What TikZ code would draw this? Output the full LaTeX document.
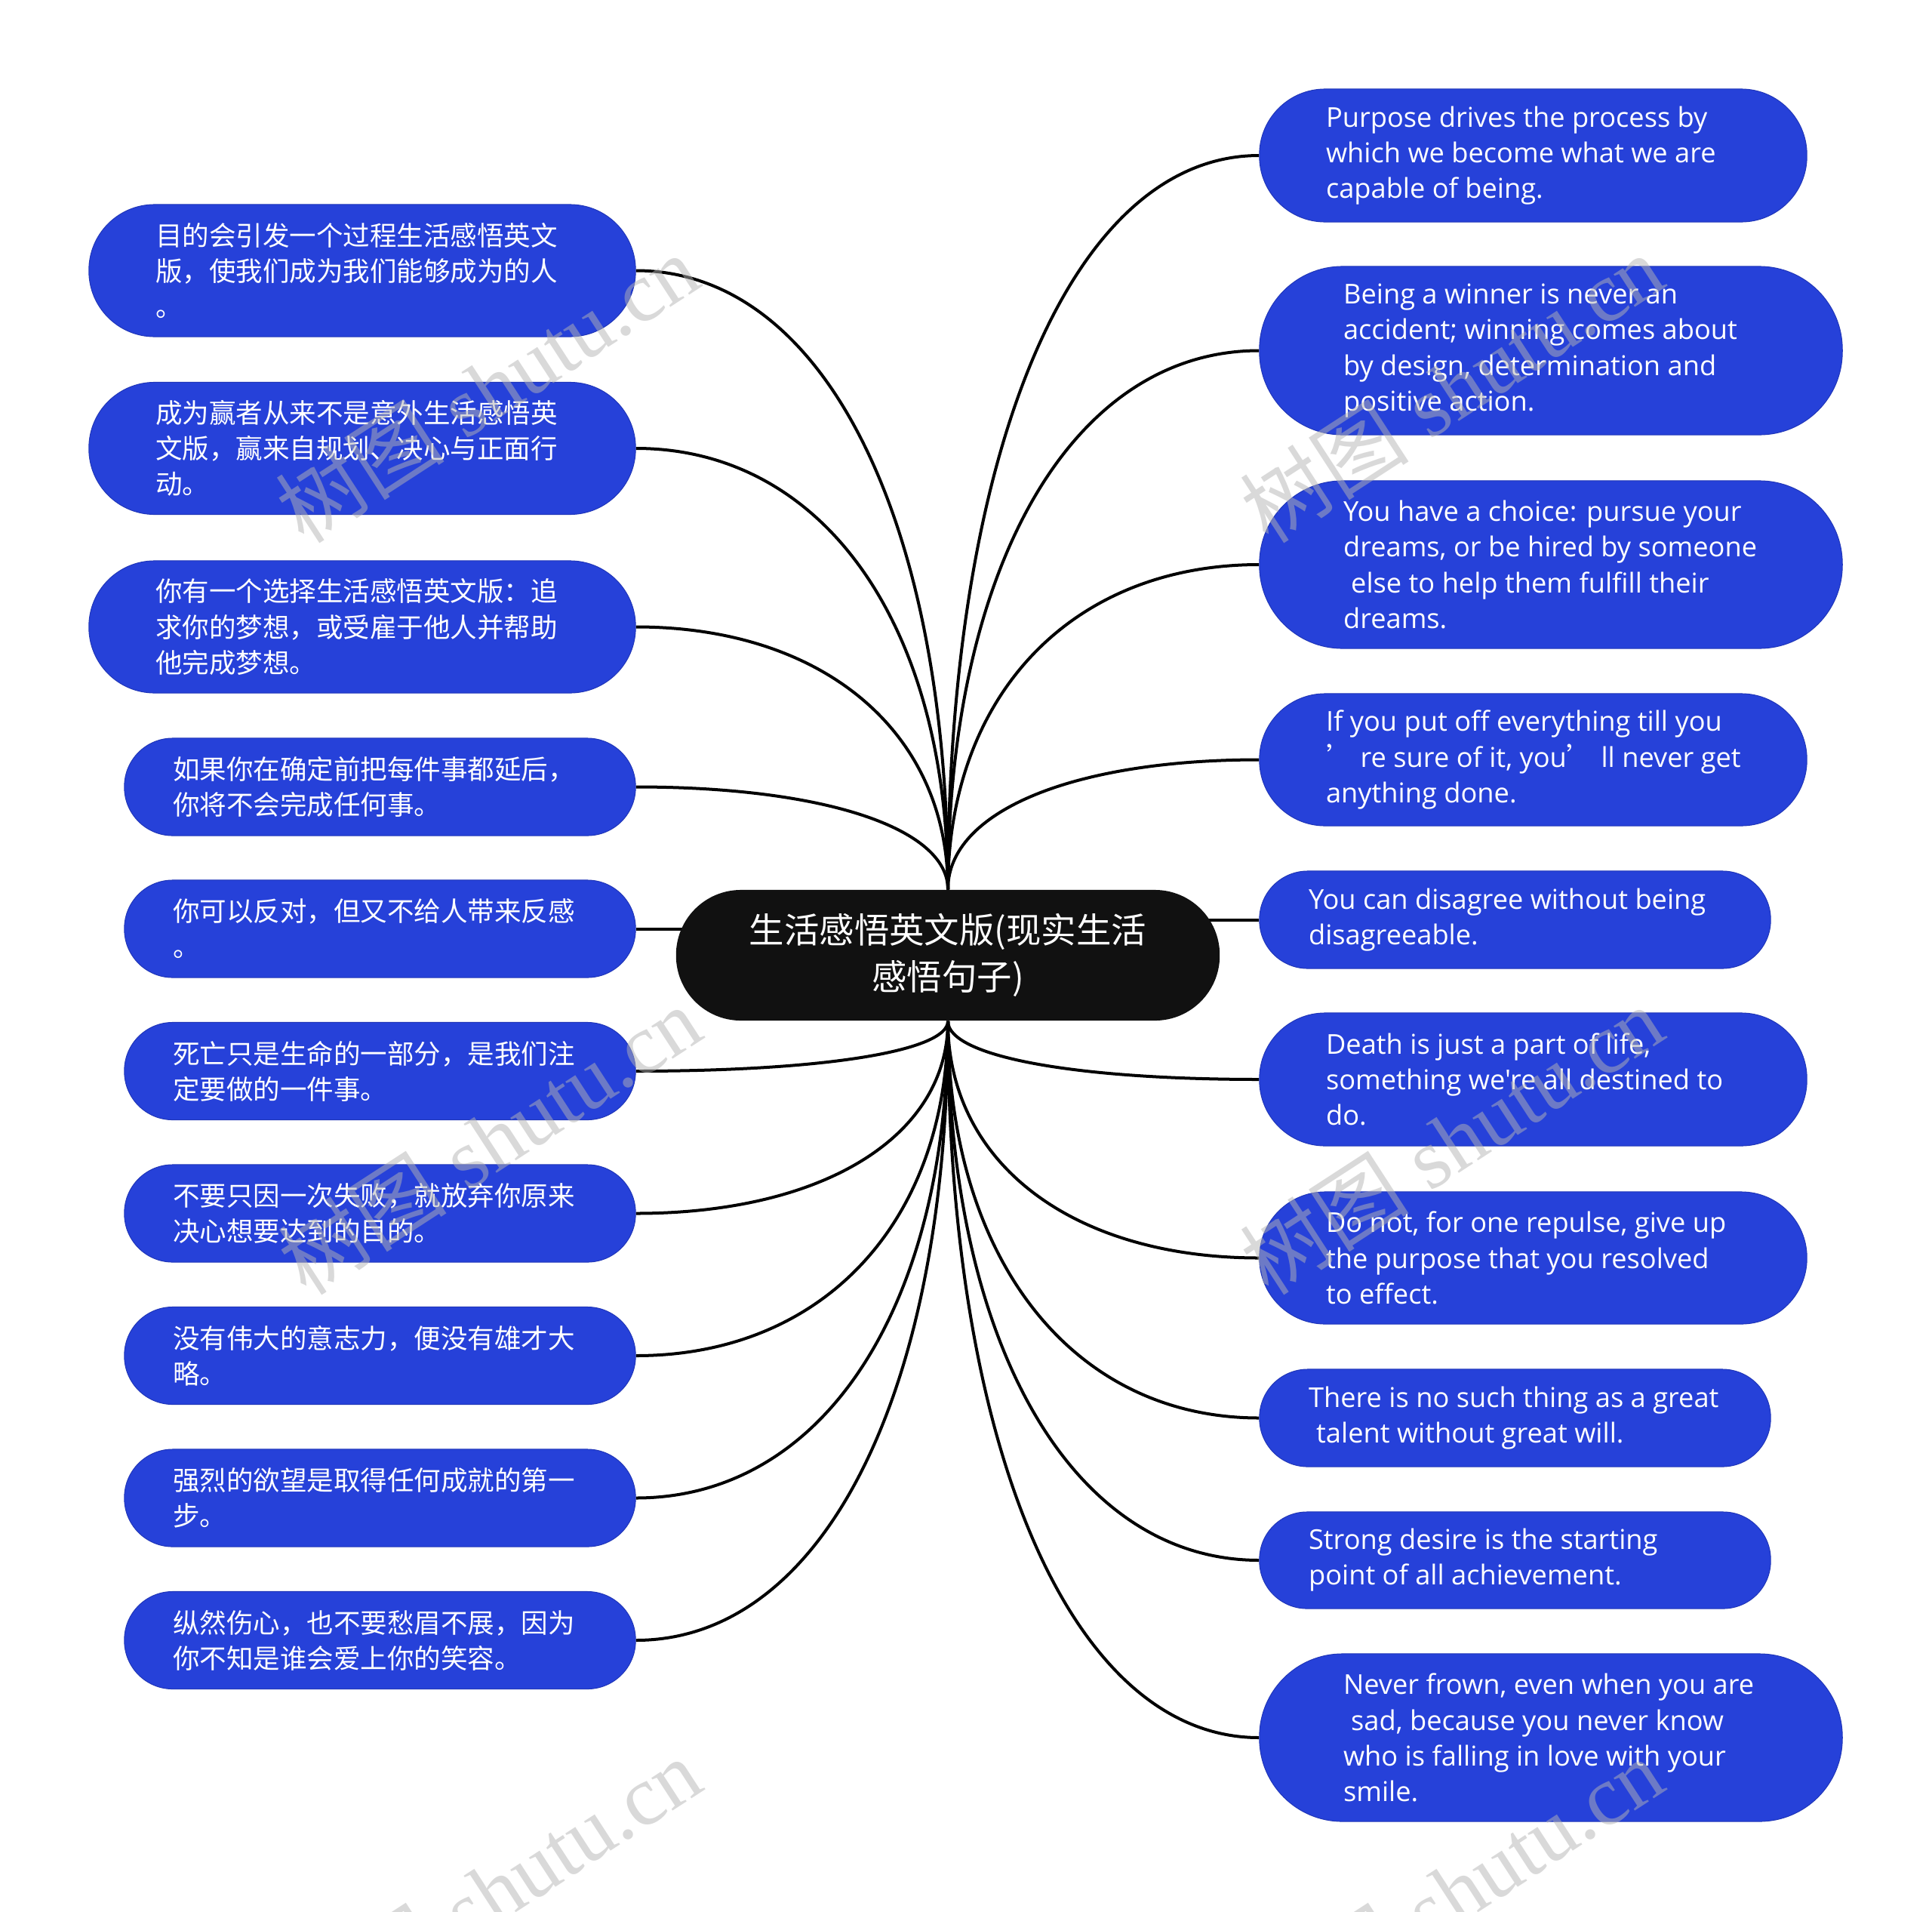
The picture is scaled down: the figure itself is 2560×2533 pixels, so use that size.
\documentclass[tikz,border=0pt]{standalone}
\usepackage{fontspec}
\setmainfont{Open Sans}[Ligatures=TeXOff]
\newfontfamily\cjk{Noto Sans CJK SC}
\newfontfamily\wmlat{Liberation Serif}
\usetikzlibrary{calc}
\definecolor{nodeblue}{HTML}{2641D9}
\definecolor{nodeedge}{HTML}{2036B8}
\definecolor{hubblack}{HTML}{111111}
\definecolor{wmgray}{HTML}{B4B4B4}
\pgfdeclarelayer{bg}
\pgfsetlayers{bg,main}
\tikzset{
  box/.style n args={3}{fill=nodeblue, draw=nodeedge, line width=0.01cm,
    minimum width=#1, minimum height=#2, rounded corners=#3, inner sep=0pt},
  hub/.style={fill=hubblack, minimum width=7.2cm, minimum height=1.73cm,
    rounded corners=0.86cm, inner sep=0pt, text=white, align=center,
    font=\cjk\fontsize{13.2pt}{17.6pt}\selectfont},
  zhtxt/.style={text=white, align=left, inner sep=0pt, anchor=west,
    font=\cjk\fontsize{10.1pt}{13.4pt}\selectfont},
  entxt/.style={text=white, align=left, inner sep=0pt, anchor=west,
    font=\fontsize{10.3pt}{13.4pt}\selectfont},
  link/.style={draw=black, line width=0.04cm},
  wmark/.style={rotate=33, text=wmgray, opacity=0.5, inner sep=0pt,
    font=\fontsize{32pt}{36pt}\selectfont}
}
\newcommand\mmlink[3]{%
  \coordinate (k#3) at (#1 |- #2);
  \draw[link] (#1) .. controls ($(#1)!0.6!(k#3)$) and ($(#2)!0.6!(k#3)$) .. (#2);}
\begin{document}
\begin{tikzpicture}[x=0.01cm,y=-0.01cm]
\useasboundingbox (0,0) rectangle (2560,2533);

% central node
\node[hub] (c) at (1256,1265.5) {生活感悟英文版(现实生活\\感悟句子)};

% left nodes
\node[box={7.24cm}{1.75cm}{0.87cm}] (l1) at (480,358.5) {};
\node[zhtxt] (l1t) at ([xshift=0.88cm]l1.west) {目的会引发一个过程生活感悟英文\\版，使我们成为我们能够成为的人\\。};
\node[box={7.24cm}{1.75cm}{0.87cm}] (l2) at (480,594) {};
\node[zhtxt] (l2t) at ([xshift=0.88cm]l2.west) {成为赢者从来不是意外生活感悟英\\文版，赢来自规划、决心与正面行\\动。};
\node[box={7.24cm}{1.75cm}{0.87cm}] (l3) at (480,830.5) {};
\node[zhtxt] (l3t) at ([xshift=0.88cm]l3.west) {你有一个选择生活感悟英文版：追\\求你的梦想，或受雇于他人并帮助\\他完成梦想。};
\node[box={6.77cm}{1.29cm}{0.64cm}] (l4) at (503.5,1042.5) {};
\node[zhtxt] (l4t) at ([xshift=0.64cm]l4.west) {如果你在确定前把每件事都延后，\\你将不会完成任何事。};
\node[box={6.77cm}{1.29cm}{0.64cm}] (l5) at (503.5,1230.5) {};
\node[zhtxt] (l5t) at ([xshift=0.64cm]l5.west) {你可以反对，但又不给人带来反感\\。};
\node[box={6.77cm}{1.29cm}{0.64cm}] (l6) at (503.5,1419) {};
\node[zhtxt] (l6t) at ([xshift=0.64cm]l6.west) {死亡只是生命的一部分，是我们注\\定要做的一件事。};
\node[box={6.77cm}{1.29cm}{0.64cm}] (l7) at (503.5,1607.5) {};
\node[zhtxt] (l7t) at ([xshift=0.64cm]l7.west) {不要只因一次失败，就放弃你原来\\决心想要达到的目的。};
\node[box={6.77cm}{1.29cm}{0.64cm}] (l8) at (503.5,1796) {};
\node[zhtxt] (l8t) at ([xshift=0.64cm]l8.west) {没有伟大的意志力，便没有雄才大\\略。};
\node[box={6.77cm}{1.29cm}{0.64cm}] (l9) at (503.5,1984.5) {};
\node[zhtxt] (l9t) at ([xshift=0.64cm]l9.west) {强烈的欲望是取得任何成就的第一\\步。};
\node[box={6.77cm}{1.29cm}{0.64cm}] (l10) at (503.5,2173) {};
\node[zhtxt] (l10t) at ([xshift=0.64cm]l10.west) {纵然伤心，也不要愁眉不展，因为\\你不知是谁会爱上你的笑容。};

% right nodes
\node[box={7.25cm}{1.76cm}{0.87cm}] (r1) at (2031.5,206) {};
\node[entxt] (r1t) at ([xshift=0.88cm]r1.west) {Purpose drives the process by\\which we become what we are\\capable of being.};
\node[box={7.72cm}{2.23cm}{1.10cm}] (r2) at (2055,464.5) {};
\node[entxt] (r2t) at ([xshift=1.11cm]r2.west) {Being a winner is never an\\accident; winning comes about\\by design, determination and\\positive action.};
\node[box={7.72cm}{2.22cm}{1.10cm}] (r3) at (2055,748) {};
\node[entxt] (r3t) at ([xshift=1.11cm]r3.west) {You have a choice: pursue your\\dreams, or be hired by someone\\\hspace*{0.28em}else to help them fulfill their\\dreams.};
\node[box={7.25cm}{1.75cm}{0.87cm}] (r4) at (2031.5,1006.5) {};
\node[entxt] (r4t) at ([xshift=0.88cm]r4.west) {If you put off everything till you\\{\cjk ’} re sure of it, you{\cjk ’} ll never get\\anything done.};
\node[box={6.77cm}{1.29cm}{0.64cm}] (r5) at (2007.5,1218.5) {};
\node[entxt] (r5t) at ([xshift=0.65cm]r5.west) {You can disagree without being\\disagreeable.};
\node[box={7.25cm}{1.76cm}{0.87cm}] (r6) at (2031.5,1430) {};
\node[entxt] (r6t) at ([xshift=0.88cm]r6.west) {Death is just a part of life,\\something we're all destined to\\do.};
\node[box={7.25cm}{1.75cm}{0.87cm}] (r7) at (2031.5,1666.5) {};
\node[entxt] (r7t) at ([xshift=0.88cm]r7.west) {Do not, for one repulse, give up\\the purpose that you resolved\\to effect.};
\node[box={6.77cm}{1.29cm}{0.64cm}] (r8) at (2007.5,1878.5) {};
\node[entxt] (r8t) at ([xshift=0.65cm]r8.west) {There is no such thing as a great\\\hspace*{0.28em}talent without great will.};
\node[box={6.77cm}{1.28cm}{0.63cm}] (r9) at (2007.5,2067) {};
\node[entxt] (r9t) at ([xshift=0.65cm]r9.west) {Strong desire is the starting\\point of all achievement.};
\node[box={7.72cm}{2.22cm}{1.10cm}] (r10) at (2055,2302) {};
\node[entxt] (r10t) at ([xshift=1.11cm]r10.west) {Never frown, even when you are\\\hspace*{0.28em}sad, because you never know\\who is falling in love with your\\smile.};

% connectors
\begin{pgfonlayer}{bg}
\fill[white] (0,0) rectangle (2560,2533);
\mmlink{c.north}{l1.east}{a1}
\mmlink{c.north}{l2.east}{a2}
\mmlink{c.north}{l3.east}{a3}
\mmlink{c.north}{l4.east}{a4}
\draw[link] (l5.east) -- (l5.east -| c.center);
\mmlink{c.south}{l6.east}{a6}
\mmlink{c.south}{l7.east}{a7}
\mmlink{c.south}{l8.east}{a8}
\mmlink{c.south}{l9.east}{a9}
\mmlink{c.south}{l10.east}{a10}
\mmlink{c.north}{r1.west}{b1}
\mmlink{c.north}{r2.west}{b2}
\mmlink{c.north}{r3.west}{b3}
\mmlink{c.north}{r4.west}{b4}
\draw[link] (r5.west) -- (r5.west -| c.center);
\mmlink{c.south}{r6.west}{b6}
\mmlink{c.south}{r7.west}{b7}
\mmlink{c.south}{r8.west}{b8}
\mmlink{c.south}{r9.west}{b9}
\mmlink{c.south}{r10.west}{b10}
\end{pgfonlayer}

% watermarks
\node[wmark] (w1) at (645,514) {{\cjk 树图} {\wmlat shutu.cn}};
\node[wmark] (w2) at (1923,514) {{\cjk 树图} {\wmlat shutu.cn}};
\node[wmark] (w3) at (648,1510) {{\cjk 树图} {\wmlat shutu.cn}};
\node[wmark] (w4) at (1923,1510) {{\cjk 树图} {\wmlat shutu.cn}};
\node[wmark] (w5) at (648,2506) {{\cjk 树图} {\wmlat shutu.cn}};
\node[wmark] (w6) at (1923,2506) {{\cjk 树图} {\wmlat shutu.cn}};
\end{tikzpicture}
\end{document}
